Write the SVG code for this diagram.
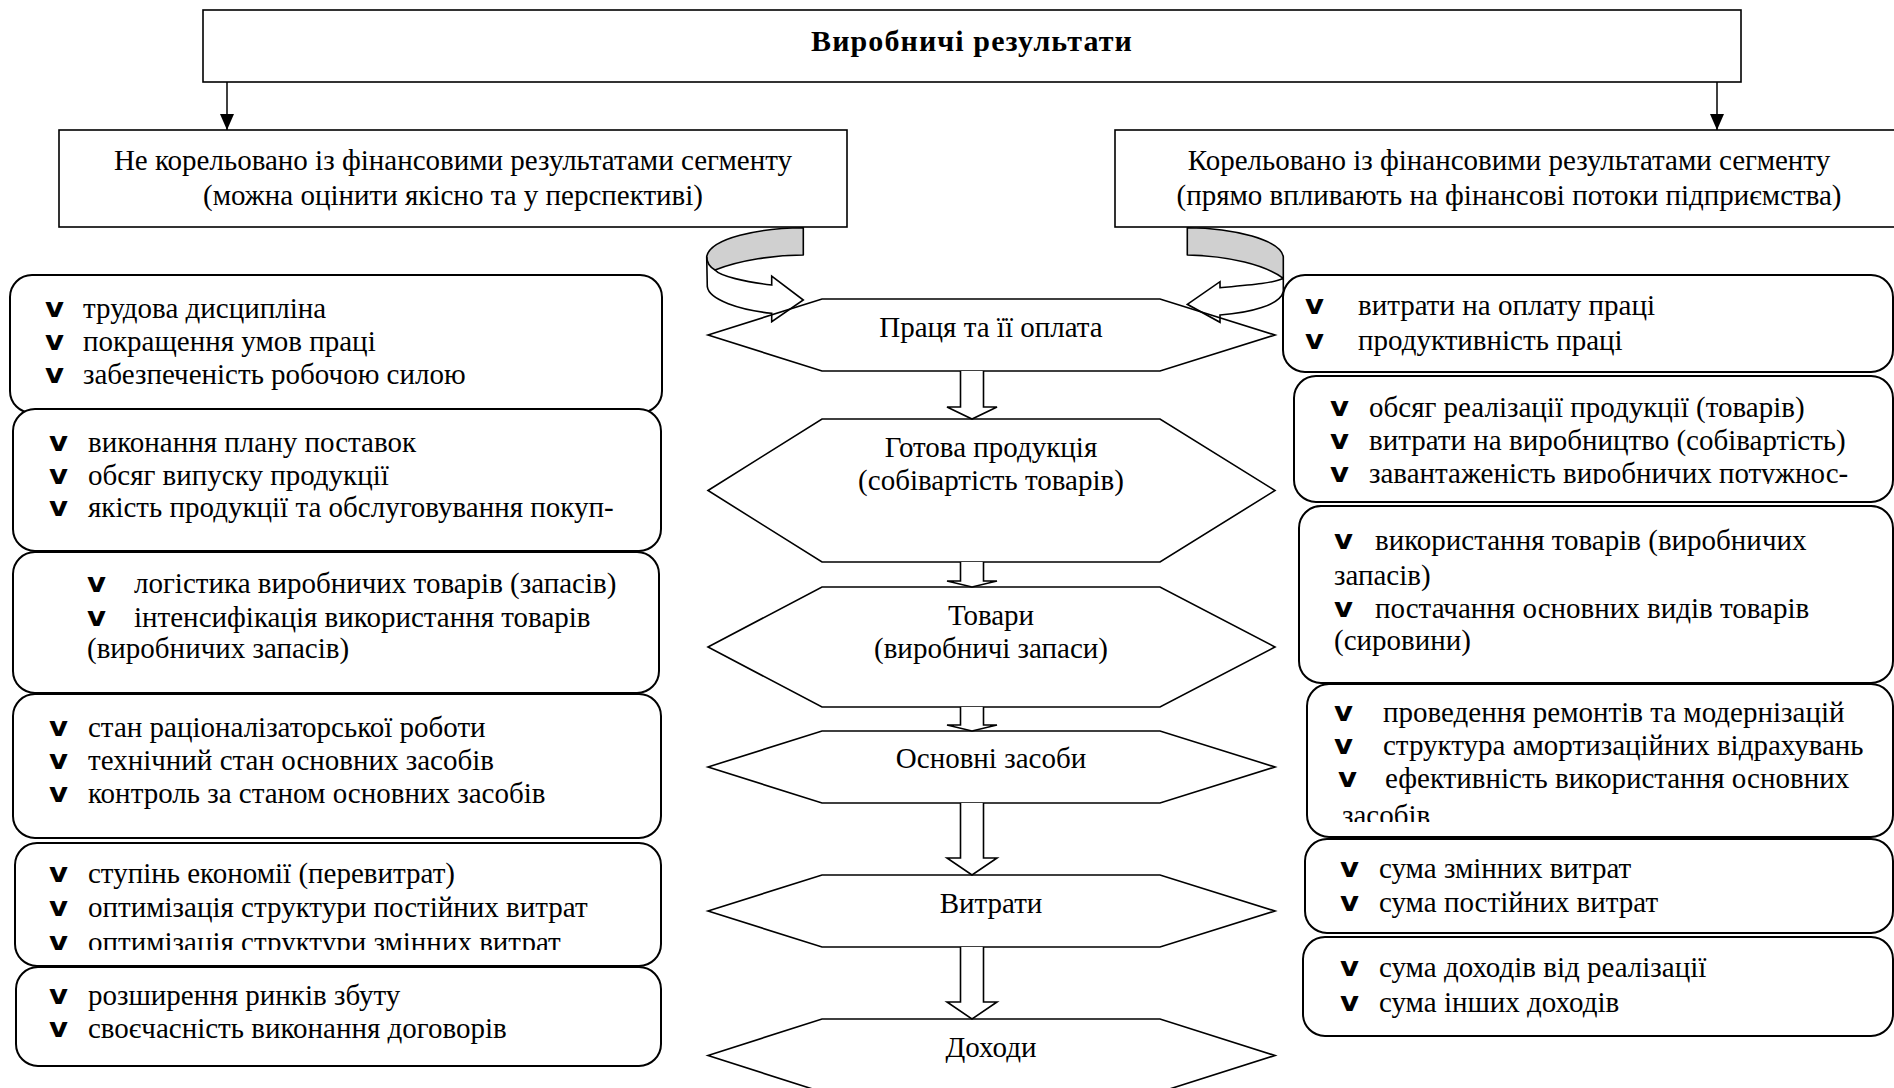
<svg xmlns="http://www.w3.org/2000/svg" width="1894" height="1088" viewBox="0 0 1894 1088">
<style>
.t{font-family:"Liberation Serif","Times New Roman",serif;font-size:29px;fill:#000}
.c{text-anchor:middle}
.b{font-weight:bold}
.v{font-family:"DejaVu Sans","Liberation Sans",sans-serif;font-weight:bold;font-size:27px;fill:#000}
.box{fill:#fff;stroke:#000;stroke-width:1.6}
.rb{fill:#fff;stroke:#000;stroke-width:2}
.hex{fill:#fff;stroke:#000;stroke-width:1.6}
.ln{stroke:#000;stroke-width:1.5;fill:none}
.blk{fill:#fff;stroke:#000;stroke-width:1.6}
.gray{fill:#d0d0d0;stroke:#000;stroke-width:1.6;stroke-linejoin:round}
.front{fill:none;stroke:#000;stroke-width:1.6;stroke-linejoin:miter}
</style>
<defs>
<marker id="ah" viewBox="0 0 16 14" markerWidth="16" markerHeight="14" refX="16" refY="7" orient="auto" markerUnits="userSpaceOnUse"><path d="M0,0 L16,7 L0,14 Z" fill="#000"/></marker>
<clipPath id="clipL5"><rect x="0" y="840" width="700" height="110"/></clipPath>
<clipPath id="clipR2"><rect x="1290" y="370" width="604" height="114"/></clipPath>
<clipPath id="clipR4"><rect x="1300" y="680" width="594" height="142"/></clipPath>
</defs>
<rect width="1894" height="1088" fill="#fff"/>

<g id="top">
<rect class="box" x="203" y="10" width="1538" height="72" stroke-width="2"/>
<text class="t c b" x="972" y="51" style="font-size:30px;letter-spacing:1.1px">Виробничі результати</text>
</g>

<g id="left-head">
<rect class="box" x="59" y="130" width="788" height="97"/>
<text class="t c" x="453" y="170">Не корельовано із фінансовими результатами сегменту</text>
<text class="t c" x="453" y="205">(можна оцінити якісно та у перспективі)</text>
</g>

<g id="right-head">
<rect class="box" x="1115" y="130" width="790" height="97"/>
<text class="t c" x="1509" y="170">Корельовано із фінансовими результатами сегменту</text>
<text class="t c" x="1509" y="205">(прямо впливають на фінансові потоки підприємства)</text>
</g>

<g id="h1"><polygon class="hex" points="708,335 822,299 1160,299 1275,335 1160,371 822,371"/><text class="t c" x="991" y="337">Праця та її оплата</text></g>
<g id="h2"><polygon class="hex" points="708,490.5 822,419 1160,419 1275,490.5 1160,562 822,562"/><text class="t c" x="991" y="457">Готова продукція</text><text class="t c" x="991" y="490">(собівартість товарів)</text></g>
<g id="h3"><polygon class="hex" points="708,647 822,587 1160,587 1275,647 1160,707 822,707"/><text class="t c" x="991" y="625">Товари</text><text class="t c" x="991" y="658">(виробничі запаси)</text></g>
<g id="h4"><polygon class="hex" points="708,767 822,731 1160,731 1275,767 1160,803 822,803"/><text class="t c" x="991" y="768">Основні засоби</text></g>
<g id="h5"><polygon class="hex" points="708,911 822,875 1160,875 1275,911 1160,947 822,947"/><text class="t c" x="991" y="913">Витрати</text></g>
<g id="h6"><polygon class="hex" points="708,1055.5 822,1019 1160,1019 1275,1055.5 1160,1092 822,1092"/><text class="t c" x="991" y="1057">Доходи</text></g>

<g id="l1"><rect class="rb" x="10" y="275" width="652" height="138" rx="22"/>
<text class="v" x="45" y="317" textLength="19" lengthAdjust="spacingAndGlyphs">v</text><text class="t" x="83" y="318">трудова дисципліна</text>
<text class="v" x="45" y="350" textLength="19" lengthAdjust="spacingAndGlyphs">v</text><text class="t" x="83" y="351">покращення умов праці</text>
<text class="v" x="45" y="383" textLength="19" lengthAdjust="spacingAndGlyphs">v</text><text class="t" x="83" y="384">забезпеченість робочою силою</text></g>

<g id="l2"><rect class="rb" x="13" y="409" width="648" height="142" rx="22"/>
<text class="v" x="49" y="451" textLength="19" lengthAdjust="spacingAndGlyphs">v</text><text class="t" x="88" y="452">виконання плану поставок</text>
<text class="v" x="49" y="484" textLength="19" lengthAdjust="spacingAndGlyphs">v</text><text class="t" x="88" y="485">обсяг випуску продукції</text>
<text class="v" x="49" y="516" textLength="19" lengthAdjust="spacingAndGlyphs">v</text><text class="t" x="88" y="517">якість продукції та обслуговування покуп-</text></g>

<g id="l3"><rect class="rb" x="13" y="552" width="646" height="141" rx="22"/>
<text class="v" x="87" y="592" textLength="19" lengthAdjust="spacingAndGlyphs">v</text><text class="t" x="134" y="593">логістика виробничих товарів (запасів)</text>
<text class="v" x="87" y="626" textLength="19" lengthAdjust="spacingAndGlyphs">v</text><text class="t" x="134" y="627">інтенсифікація використання товарів</text>
<text class="t" x="87" y="658">(виробничих запасів)</text></g>

<g id="l4"><rect class="rb" x="13" y="694" width="648" height="144" rx="22"/>
<text class="v" x="49" y="736" textLength="19" lengthAdjust="spacingAndGlyphs">v</text><text class="t" x="88" y="737">стан раціоналізаторської роботи</text>
<text class="v" x="49" y="769" textLength="19" lengthAdjust="spacingAndGlyphs">v</text><text class="t" x="88" y="770">технічний стан основних засобів</text>
<text class="v" x="49" y="802" textLength="19" lengthAdjust="spacingAndGlyphs">v</text><text class="t" x="88" y="803">контроль за станом основних засобів</text></g>

<g id="l5"><rect class="rb" x="15" y="843" width="646" height="123" rx="22"/>
<text class="v" x="49" y="882" textLength="19" lengthAdjust="spacingAndGlyphs">v</text><text class="t" x="88" y="883">ступінь економії (перевитрат)</text>
<text class="v" x="49" y="916" textLength="19" lengthAdjust="spacingAndGlyphs">v</text><text class="t" x="88" y="917">оптимізація структури постійних витрат</text>
<g clip-path="url(#clipL5)"><text class="v" x="49" y="951" textLength="19" lengthAdjust="spacingAndGlyphs">v</text><text class="t" x="88" y="952">оптимізація структури змінних витрат</text></g></g>

<g id="l6"><rect class="rb" x="16" y="967" width="645" height="99" rx="22"/>
<text class="v" x="49" y="1004" textLength="19" lengthAdjust="spacingAndGlyphs">v</text><text class="t" x="88" y="1005">розширення ринків збуту</text>
<text class="v" x="49" y="1037" textLength="19" lengthAdjust="spacingAndGlyphs">v</text><text class="t" x="88" y="1038">своєчасність виконання договорів</text></g>

<g id="r1"><rect class="rb" x="1283" y="275" width="610" height="97" rx="22"/>
<text class="v" x="1305" y="314" textLength="19" lengthAdjust="spacingAndGlyphs">v</text><text class="t" x="1358" y="315">витрати на оплату праці</text>
<text class="v" x="1305" y="349" textLength="19" lengthAdjust="spacingAndGlyphs">v</text><text class="t" x="1358" y="350">продуктивність праці</text></g>

<g id="r2"><rect class="rb" x="1294" y="376" width="599" height="126" rx="22"/>
<text class="v" x="1330" y="416" textLength="19" lengthAdjust="spacingAndGlyphs">v</text><text class="t" x="1369" y="417">обсяг реалізації продукції (товарів)</text>
<text class="v" x="1330" y="449" textLength="19" lengthAdjust="spacingAndGlyphs">v</text><text class="t" x="1369" y="450">витрати на виробництво (собівартість)</text>
<g clip-path="url(#clipR2)"><text class="v" x="1330" y="482" textLength="19" lengthAdjust="spacingAndGlyphs">v</text><text class="t" x="1369" y="483">завантаженість виробничих потужнос-</text></g></g>

<g id="r3"><rect class="rb" x="1299" y="506" width="594" height="177" rx="22"/>
<text class="v" x="1334" y="549" textLength="19" lengthAdjust="spacingAndGlyphs">v</text><text class="t" x="1375" y="550">використання товарів (виробничих</text>
<text class="t" x="1334" y="585">запасів)</text>
<text class="v" x="1334" y="617" textLength="19" lengthAdjust="spacingAndGlyphs">v</text><text class="t" x="1375" y="618">постачання основних видів товарів</text>
<text class="t" x="1334" y="650">(сировини)</text></g>

<g id="r4"><rect class="rb" x="1307" y="684" width="586" height="153" rx="22"/>
<text class="v" x="1334" y="721" textLength="19" lengthAdjust="spacingAndGlyphs">v</text><text class="t" x="1383" y="722">проведення ремонтів та модернізацій</text>
<text class="v" x="1334" y="754" textLength="19" lengthAdjust="spacingAndGlyphs">v</text><text class="t" x="1383" y="755">структура амортизаційних відрахувань</text>
<text class="v" x="1338" y="787" textLength="19" lengthAdjust="spacingAndGlyphs">v</text><text class="t" x="1385" y="788">ефективність використання основних</text>
<g clip-path="url(#clipR4)"><text class="t" x="1342" y="825">засобів</text></g></g>

<g id="r5"><rect class="rb" x="1305" y="839" width="588" height="94" rx="22"/>
<text class="v" x="1340" y="877" textLength="19" lengthAdjust="spacingAndGlyphs">v</text><text class="t" x="1379" y="878">сума змінних витрат</text>
<text class="v" x="1340" y="911" textLength="19" lengthAdjust="spacingAndGlyphs">v</text><text class="t" x="1379" y="912">сума постійних витрат</text></g>

<g id="r6"><rect class="rb" x="1303" y="937" width="590" height="99" rx="22"/>
<text class="v" x="1340" y="976" textLength="19" lengthAdjust="spacingAndGlyphs">v</text><text class="t" x="1379" y="977">сума доходів від реалізації</text>
<text class="v" x="1340" y="1011" textLength="19" lengthAdjust="spacingAndGlyphs">v</text><text class="t" x="1379" y="1012">сума інших доходів</text></g>

<g id="connectors">
<line class="ln" x1="227" y1="82" x2="227" y2="130" marker-end="url(#ah)"/>
<line class="ln" x1="1717" y1="82" x2="1717" y2="130" marker-end="url(#ah)"/>
<path class="blk" d="M960.5,371 L960.5,407 L947,407 L972,419 L997,407 L983.5,407 L983.5,371"/>
<path class="blk" d="M960.5,562 L960.5,581 L947,581 L972,587 L997,581 L983.5,581 L983.5,562"/>
<path class="blk" d="M960.5,707 L960.5,725 L947,725 L972,731 L997,725 L983.5,725 L983.5,707"/>
<path class="blk" d="M960.5,803 L960.5,858 L947,858 L972,875 L997,858 L983.5,858 L983.5,803"/>
<path class="blk" d="M960.5,947 L960.5,1002 L947,1002 L972,1019 L997,1002 L983.5,1002 L983.5,947"/>
<path class="gray" d="M803.3,227.7 C760,228 710,238 706.7,256.7 C706.7,262 710,267 715,270 C740,260 775,255 803.3,255 Z"/>
<path class="front" d="M706.7,256.7 L707.3,286.7 C709,300 740,310 771.7,313.3 L771.7,321.7 L803.3,300 L771.7,276 L771.7,285 C745,282 720,276 715,270"/>
<path class="gray" d="M1187.3,227.7 C1235,228 1280,240 1283.3,256.7 L1283.3,278.3 C1265,265 1230,256 1187.3,255 Z"/>
<path class="front" d="M1283.3,278.3 L1283.3,291.7 C1280,305 1250,313 1220,315 L1220,322.3 L1187.3,304.3 L1220,281.7 L1220,287.7 C1250,285 1275,283 1283.3,278.3"/>
</g>
</svg>
